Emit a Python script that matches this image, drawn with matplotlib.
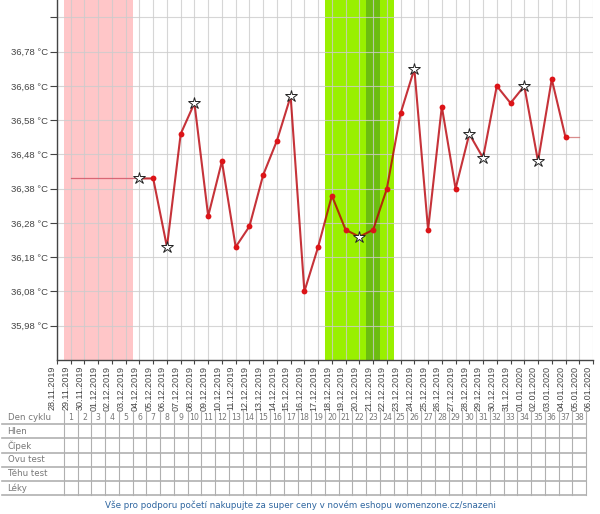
import matplotlib.pyplot as plt

plt.rcParams['font.family'] = ['Liberation Sans', 'DejaVu Sans']

# osa x: datumy 28.11.2019 - 06.01.2020
dates = ['28.11.2019', '29.11.2019', '30.11.2019', '01.12.2019', '02.12.2019',
         '03.12.2019', '04.12.2019', '05.12.2019', '06.12.2019', '07.12.2019',
         '08.12.2019', '09.12.2019', '10.12.2019', '11.12.2019', '12.12.2019',
         '13.12.2019', '14.12.2019', '15.12.2019', '16.12.2019', '17.12.2019',
         '18.12.2019', '19.12.2019', '20.12.2019', '21.12.2019', '22.12.2019',
         '23.12.2019', '24.12.2019', '25.12.2019', '26.12.2019', '27.12.2019',
         '28.12.2019', '29.12.2019', '30.12.2019', '31.12.2019', '01.01.2020',
         '02.01.2020', '03.01.2020', '04.01.2020', '05.01.2020', '06.01.2020']

# namerene teploty (den cyklu 6 .. 37)
days = list(range(6, 38))
temps = [36.41, 36.41, 36.21, 36.54, 36.63, 36.30, 36.46, 36.21, 36.27, 36.42,
         36.52, 36.65, 36.08, 36.21, 36.36, 36.26, 36.24, 36.26, 36.38, 36.60,
         36.73, 36.26, 36.62, 36.38, 36.54, 36.47, 36.68, 36.63, 36.68, 36.46,
         36.70, 36.53]
# dny oznacene hvezdickou
star_days = [6, 8, 10, 17, 22, 26, 30, 31, 34, 35]

# tenke spojnice bez mereni
gap_start = ([1, 6], [36.41, 36.41])
gap_end = ([37, 38], [36.53, 36.53])

menses = (1, 5)      # pink
fertile = (20, 24)   # green
ovulation = 23       # dark green

yticks = [35.98, 36.08, 36.18, 36.28, 36.38, 36.48, 36.58, 36.68, 36.78, 36.88]
row_labels = ['Den cyklu', 'Hlen', 'Čípek', 'Ovu test', 'Těhu test', 'Léky']
cycle_days = list(range(1, 39))
footer = 'Vše pro podporu početí nakupujte za super ceny v novém eshopu womenzone.cz/snazeni'

W, H = 600, 514
fig = plt.figure(figsize=(W / 100, H / 100), dpi=100)
ax = fig.add_axes([57 / W, 1 - 360 / H, (593 - 57) / W, 360 / H])

ax.axvspan(menses[0] - 0.5, menses[1] + 0.5, color='#ffc6c8', lw=0, zorder=0)
ax.axvspan(fertile[0] - 0.5, fertile[1] + 0.5, color='#99f000', lw=0, zorder=0)
ax.axvspan(ovulation - 0.5, ovulation + 0.5, color='#6cbd10', lw=0, zorder=0)

ax.plot(*gap_start, color='#d05060', lw=0.9, alpha=0.8, zorder=3)
ax.plot(*gap_end, color='#d07070', lw=0.9, alpha=0.8, zorder=3)
ax.plot(days, temps, color='#b80008', lw=1.5, alpha=0.8, zorder=3)

dot_x = [d for d in days if d not in star_days]
dot_y = [t for d, t in zip(days, temps) if d not in star_days]
star_y = [t for d, t in zip(days, temps) if d in star_days]
ax.plot(dot_x, dot_y, 'o', color='#dc1418', ms=4.2, mew=0, zorder=4)
ax.plot(star_days, star_y, '*', mfc='white', mec='#222222', mew=0.7, ms=9, zorder=5)

ax.set_xlim(0, 39)
ax.set_ylim(35.88, 36.931)
ax.set_xticks(range(len(dates)))
ax.set_xticklabels(dates, rotation=90, ha='right', va='top', fontsize=6.5, color='#444444')
ax.set_yticks(yticks)
ax.set_yticklabels([f'{v:.2f} °C'.replace('.', ',') for v in yticks[:-1]] + [''],
                   fontsize=6.8, color='#444444')
ax.tick_params(axis='y', length=5, width=0.8, pad=1.5, color='#444444')
ax.tick_params(axis='x', length=3, width=0.8, pad=1, color='#444444')
ax.grid(True, color='#cccccc', lw=0.8, alpha=0.8, zorder=1)
ax.set_axisbelow(True)
for s in ['top', 'right']:
    ax.spines[s].set_visible(False)
for s in ['left', 'bottom']:
    ax.spines[s].set_color('#444444')
    ax.spines[s].set_linewidth(1.0)

# tabulka pod grafem
tab = fig.add_axes([57 / W, 1 - 495 / H, (593 - 57) / W, 85 / H])
tab.set_xlim(0, 39)
tab.set_ylim(6, 0)
tab.axis('off')
x_left = -57 / 13.755 + 2 / 13.755
for r in range(1, 7):
    tab.plot([x_left, 38.5], [r, r], color='#b0b0b0', lw=1.2, clip_on=False)
for c in range(39):
    tab.plot([c + 0.5, c + 0.5], [0, 6], color='#b0b0b0', lw=0.8, clip_on=False)
for r, lab in enumerate(row_labels):
    tab.text(x_left + 0.4, r + 0.5, lab, fontsize=6.2, color='#777777',
             va='center', ha='left', family='DejaVu Sans', clip_on=False)
for d in cycle_days:
    tab.text(d, 0.5, str(d), fontsize=5.6, color='#777777', ha='center',
             va='center', family='DejaVu Sans')

fig.text(0.5, 1 - 505 / H, footer, ha='center', va='center', fontsize=6.3,
         color='#2f66a0', family='DejaVu Sans')

fig.savefig('out.png', dpi=100)
